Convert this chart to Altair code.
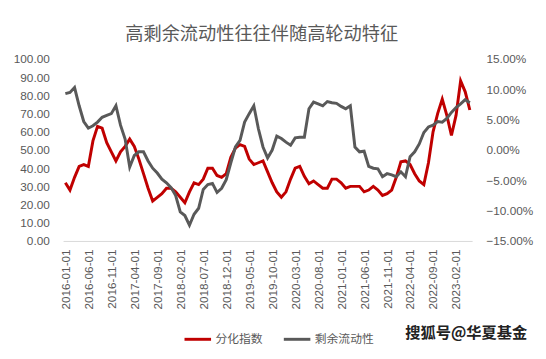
import altair as alt
import pandas as pd

title_text = "高剩余流动性往往伴随高轮动特征"
watermark = "搜狐号@华夏基金"
series_names = ["分化指数", "剩余流动性"]

dates = [d.strftime("%Y-%m-%d") for d in pd.date_range("2016-01-01", "2023-05-01", freq="MS")]

tick_labels = ["2016-01-01", "2016-06-01", "2016-11-01", "2017-04-01", "2017-09-01",
               "2018-02-01", "2018-07-01", "2018-12-01", "2019-05-01", "2019-10-01",
               "2020-03-01", "2020-08-01", "2021-01-01", "2021-06-01", "2021-11-01",
               "2022-04-01", "2022-09-01", "2023-02-01"]

divergence = [32, 28, 35, 41, 42, 41, 55, 63, 62, 54,
              49, 44, 49, 52, 56, 52, 45, 37, 29, 22,
              24, 26, 29, 29, 27, 24, 21, 27, 32, 31,
              34, 40, 40, 36, 35, 37, 46, 51, 53, 52,
              45, 42, 43, 44, 38, 32, 27, 24, 27, 34,
              40, 41, 35.5, 31.5, 33, 31, 29, 29, 34, 34,
              32, 29, 30, 30, 30, 27, 28, 30, 28, 25,
              26, 28, 35, 43.5, 44, 42, 37, 33, 31, 43,
              60, 70, 78, 69, 58, 69, 88, 82, 72]

liquidity_pct = [9.3, 9.5, 10.3, 7.3, 4.7, 3.6, 4.0, 4.6, 5.4, 5.7,
                 6.0, 7.3, 4.1, 1.8, -2.8, -0.9, -0.3, -0.3, -1.8, -3.0,
                 -3.8, -4.8, -5.4, -6.2, -7.5, -10.2, -10.8, -12.4, -10.6, -9.6,
                 -6.5, -5.7, -5.5, -7.0, -6.3, -4.9, -2.1, 0.5, 1.6, 4.6,
                 6.0, 7.3, 3.5, 0.5, -1.3, 0.0, 2.3, 1.9, 1.3, 0.8,
                 2.0, 2.1, 2.1, 6.8, 7.9, 7.6, 7.3, 8.0, 7.8, 7.7,
                 7.2, 6.8, 7.3, 0.5, -0.3, -0.2, -2.7, -3.0, -3.1, -4.4,
                 -3.9, -4.1, -4.4, -3.6, -4.4, -1.1, -0.3, 1.0, 2.9, 3.8,
                 4.1, 4.7, 4.6, 5.2, 6.2, 7.0, 7.6, 8.3, 7.8]

df = pd.DataFrame({
    "date": dates,
    "div": divergence,
    "liq": [v / 100 for v in liquidity_pct],
    "s1": series_names[0],
    "s2": series_names[1],
})

label_font = "Liberation Sans"
cjk_font = "Noto Sans CJK SC"
text_color = "#595959"

x_enc = alt.X("date:O", sort=None, title=None,
              scale=alt.Scale(type="point", padding=0.5),
              axis=alt.Axis(values=tick_labels, labelAngle=-90, ticks=False,
                            domainColor="#d9d9d9", domainWidth=1,
                            labelPadding=8, labelFont=label_font, labelFontSize=12,
                            labelColor=text_color, grid=False))

color_scale = alt.Scale(domain=series_names, range=["#C00000", "#595959"])
legend = alt.Legend(title=None, orient="none", direction="horizontal",
                    legendX=122, legendY=270, symbolType="stroke",
                    symbolSize=729, symbolStrokeWidth=3, labelFont=cjk_font,
                    labelFontSize=12, labelColor=text_color, columnPadding=14,
                    labelOffset=3)

red = alt.Chart(df).mark_line(strokeWidth=3).encode(
    x=x_enc,
    y=alt.Y("div:Q", title=None,
            scale=alt.Scale(domain=[0, 100], nice=False, zero=False),
            axis=alt.Axis(orient="left", values=list(range(0, 101, 10)), format=".2f",
                          ticks=False, domain=False, grid=False, labelPadding=14,
                          labelFont=label_font, labelFontSize=12, labelColor=text_color)),
    color=alt.Color("s1:N", scale=color_scale, legend=legend),
)

gray = alt.Chart(df).mark_line(strokeWidth=3).encode(
    x=x_enc,
    y=alt.Y("liq:Q", title=None,
            scale=alt.Scale(domain=[-0.15, 0.15], nice=False, zero=False),
            axis=alt.Axis(orient="right", values=[-0.15, -0.10, -0.05, 0, 0.05, 0.10, 0.15],
                          format=".2%", ticks=False, domain=False, grid=False,
                          labelPadding=14, labelFont=label_font, labelFontSize=12,
                          labelColor=text_color)),
    color=alt.Color("s2:N", scale=color_scale, legend=legend),
)

wm = alt.Chart(pd.DataFrame({"t": [watermark]})).mark_text(
    font=cjk_font, fontSize=15.5, fontWeight="bold", color="#222222", align="center",
    baseline="middle").encode(text="t:N", x=alt.value(410), y=alt.value(279))

chart = alt.layer(red, gray, wm).resolve_scale(y="independent").properties(
    width=416, height=185,
    title=alt.TitleParams(title_text, fontSize=18.5, font=cjk_font, fontWeight="normal",
                          color=text_color, anchor="middle", offset=10, dx=-6),
    padding={"left": 5, "right": 5, "top": 14, "bottom": 5},
).configure_view(stroke=None)

chart.save("out.html", embed_options={"renderer": "svg", "actions": False})
